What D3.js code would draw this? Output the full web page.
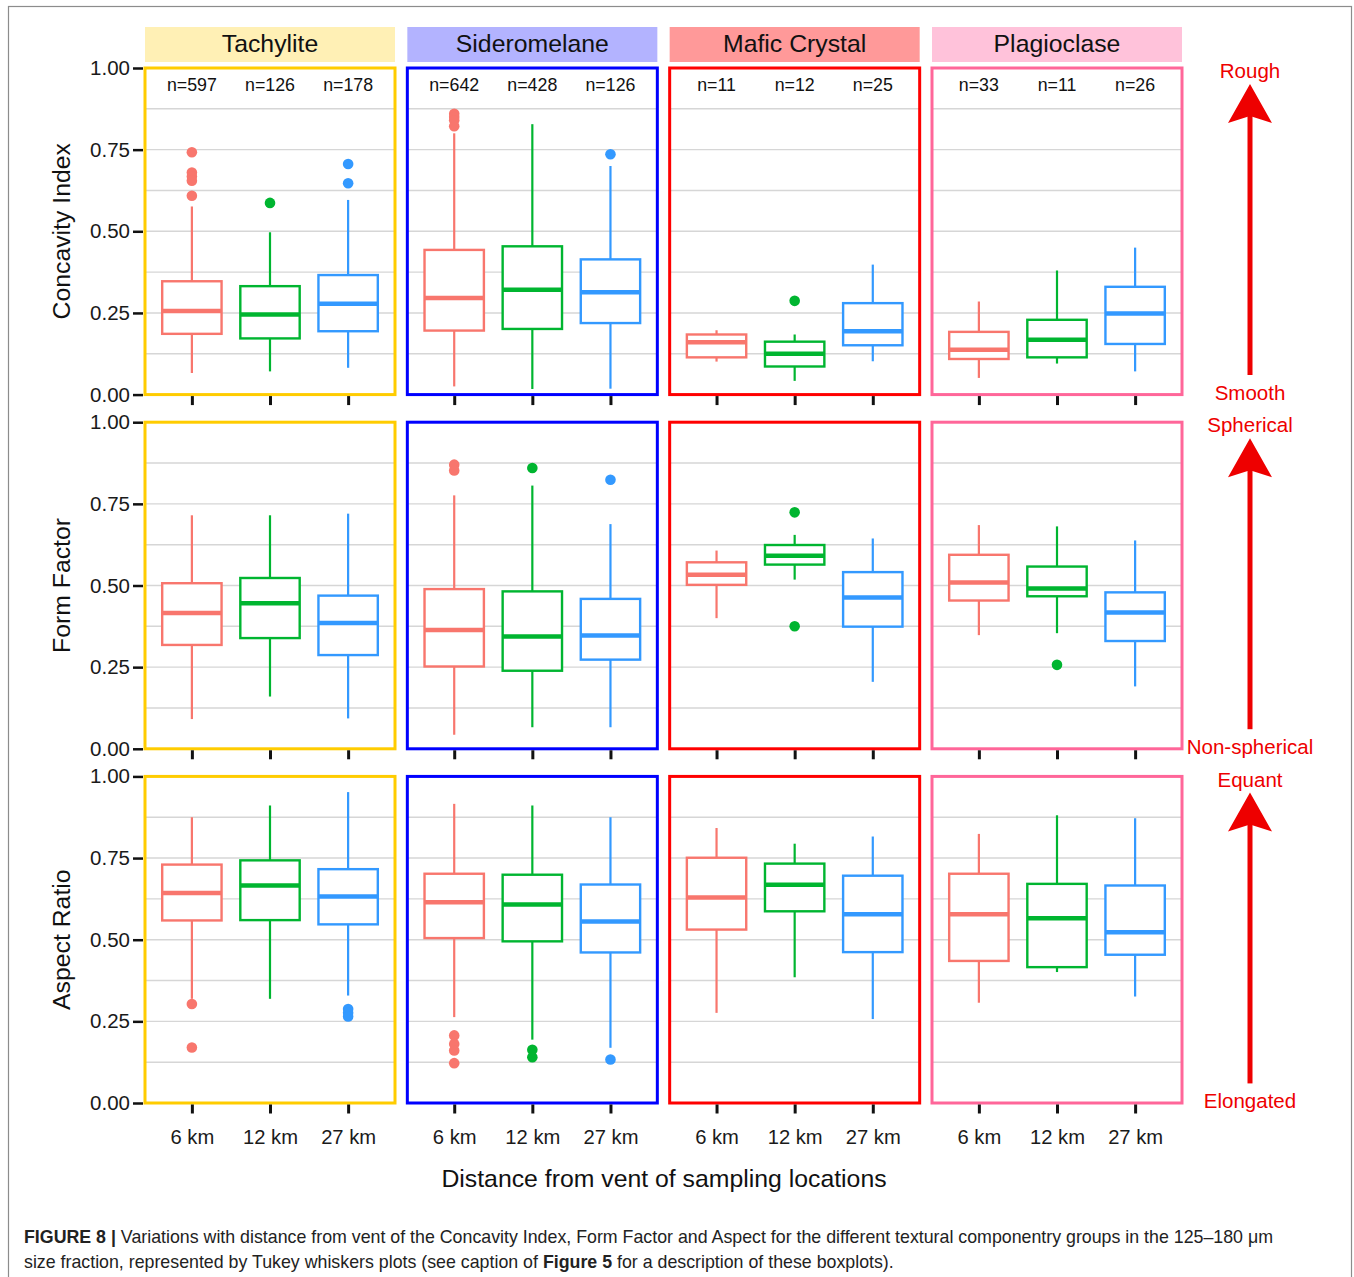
<!DOCTYPE html>
<html>
<head>
<meta charset="utf-8">
<script src="https://cdn.jsdelivr.net/npm/d3@7"></script>
<style>
  body { margin: 0; background: #fff; }
  svg { display: block; font-family: "Liberation Sans", Arial, sans-serif; }
</style>
</head>
<body>
<div id="chart"></div>
<script>
var groups = ["Tachylite", "Sideromelane", "Mafic Crystal", "Plagioclase"];
var distances = ["6 km", "12 km", "27 km"];
var metrics = ["Concavity Index", "Form Factor", "Aspect Ratio"];
var counts = [[597, 126, 178], [642, 428, 126], [11, 12, 25], [33, 11, 26]];
var yTicks = [0, 0.25, 0.5, 0.75, 1];
var yGrid = [0.125, 0.25, 0.375, 0.5, 0.625, 0.75, 0.875];

// [lower whisker, Q1, median, Q3, upper whisker] per group, per distance
var concavityStats = [
  [[0.066, 0.186, 0.256, 0.347, 0.576], [0.071, 0.172, 0.245, 0.332, 0.497], [0.082, 0.194, 0.278, 0.366, 0.596]],
  [[0.025, 0.196, 0.296, 0.443, 0.800], [0.017, 0.201, 0.321, 0.454, 0.828], [0.018, 0.219, 0.313, 0.414, 0.700]],
  [[0.101, 0.114, 0.160, 0.184, 0.197], [0.042, 0.086, 0.125, 0.162, 0.184], [0.102, 0.151, 0.194, 0.280, 0.398]],
  [[0.051, 0.109, 0.137, 0.192, 0.285], [0.095, 0.114, 0.168, 0.229, 0.380], [0.071, 0.155, 0.248, 0.330, 0.450]]
];
var concavityOutliers = [
  [[0.742, 0.680, 0.668, 0.655, 0.609], [0.587], [0.706, 0.647]],
  [[0.860, 0.850, 0.840, 0.822], [], [0.736]],
  [[], [0.287], []],
  [[], [], []]
];

var formFactorStats = [
  [[0.091, 0.318, 0.416, 0.507, 0.715], [0.160, 0.339, 0.446, 0.523, 0.715], [0.093, 0.287, 0.385, 0.469, 0.720]],
  [[0.043, 0.252, 0.364, 0.489, 0.776], [0.066, 0.239, 0.344, 0.482, 0.806], [0.066, 0.273, 0.347, 0.459, 0.688]],
  [[0.400, 0.502, 0.533, 0.571, 0.607], [0.518, 0.564, 0.591, 0.624, 0.655], [0.205, 0.374, 0.463, 0.541, 0.644]],
  [[0.348, 0.454, 0.509, 0.594, 0.685], [0.354, 0.467, 0.491, 0.558, 0.681], [0.191, 0.330, 0.417, 0.479, 0.638]]
];
var formFactorOutliers = [
  [[], [], []],
  [[0.870, 0.852], [0.860], [0.824]],
  [[], [0.724, 0.375], []],
  [[], [0.257], []]
];

var aspectRatioStats = [
  [[0.319, 0.559, 0.643, 0.730, 0.875], [0.319, 0.560, 0.666, 0.743, 0.911], [0.329, 0.547, 0.632, 0.716, 0.952]],
  [[0.263, 0.505, 0.615, 0.702, 0.916], [0.194, 0.495, 0.608, 0.699, 0.911], [0.169, 0.461, 0.556, 0.669, 0.875]],
  [[0.276, 0.531, 0.629, 0.751, 0.842], [0.385, 0.587, 0.668, 0.733, 0.794], [0.257, 0.462, 0.578, 0.696, 0.816]],
  [[0.307, 0.435, 0.578, 0.702, 0.824], [0.401, 0.416, 0.566, 0.671, 0.881], [0.326, 0.454, 0.523, 0.666, 0.872]]
];
var aspectRatioOutliers = [
  [[0.303, 0.170], [], [0.288, 0.276, 0.265]],
  [[0.207, 0.181, 0.161, 0.122], [0.163, 0.140], [0.133]],
  [[], [], []],
  [[], [], []]
];

var stats = [concavityStats, formFactorStats, aspectRatioStats];
var outliers = [concavityOutliers, formFactorOutliers, aspectRatioOutliers];

var arrowTop = ["Rough", "Spherical", "Equant"];
var arrowBottom = ["Smooth", "Non-spherical", "Elongated"];

var distColors = ["#F8766D", "#00B530", "#3399FF"];
var borderColors = ["#FFCC00", "#0000FF", "#FF0000", "#FF6699"];
var stripColors = ["#FFF0B5", "#B3B3FF", "#FF9999", "#FFC2DA"];
var red = "#EE0000";

var width = 1354,
    height = 1277;

var svg = d3.select("#chart").append("svg")
    .attr("width", width)
    .attr("height", height);

// outer frame
svg.append("rect")
    .attr("x", 8.5).attr("y", 6.5)
    .attr("width", 1343).attr("height", 1300)
    .attr("fill", "none")
    .attr("stroke", "#8c8c8c")
    .attr("stroke-width", 1.2);

var col = d3.scaleBand().domain(groups).range([145, 1182]).paddingInner(0.047);
var row = d3.scaleBand().domain(metrics).range([68, 1103]).paddingInner(0.078);

// strips
groups.forEach(function(g, gi) {
  svg.append("rect")
      .attr("x", col(g)).attr("y", 27)
      .attr("width", col.bandwidth()).attr("height", 35)
      .attr("fill", stripColors[gi]);
  svg.append("text")
      .attr("x", col(g) + col.bandwidth() / 2).attr("y", 43.5)
      .attr("dy", "0.35em")
      .attr("text-anchor", "middle")
      .attr("font-size", 24.8)
      .attr("fill", "#111")
      .text(g);
});

metrics.forEach(function(m, mi) {
  var top = row(m), bottom = top + row.bandwidth();
  var y = d3.scaleLinear().domain([0, 1]).range([bottom, top]);

  // y axis
  var yAxis = svg.append("g")
      .attr("transform", "translate(143,0)")
      .call(d3.axisLeft(y).tickValues(yTicks).tickFormat(d3.format(".2f")).tickSize(10).tickPadding(3));
  yAxis.select(".domain").remove();
  yAxis.selectAll("line").attr("stroke", "#111").attr("stroke-width", 2.5);
  yAxis.selectAll("text").attr("font-size", 20.5).attr("fill", "#1a1a1a")
      .attr("font-family", "'Liberation Sans', Arial, sans-serif");

  // y title
  svg.append("text")
      .attr("transform", "translate(61," + (top + row.bandwidth() / 2) + ") rotate(-90)")
      .attr("dy", "0.35em")
      .attr("text-anchor", "middle")
      .attr("font-size", 24.8)
      .attr("fill", "#111")
      .text(m);

  groups.forEach(function(g, gi) {
    var x = d3.scalePoint().domain(distances)
        .range([col(g), col(g) + col.bandwidth()]).padding(0.6);
    var bw = x.step() * 0.76;
    var panel = svg.append("g");

    panel.selectAll(".grid")
      .data(yGrid)
      .enter().append("line")
        .attr("x1", col(g)).attr("x2", col(g) + col.bandwidth())
        .attr("y1", y).attr("y2", y)
        .attr("stroke", "#d6d6d6")
        .attr("stroke-width", 1.4);

    distances.forEach(function(d, di) {
      var s = stats[mi][gi][di], c = distColors[di], cx = x(d);
      // whiskers
      panel.append("line")
          .attr("x1", cx).attr("x2", cx)
          .attr("y1", y(s[3])).attr("y2", y(s[4]))
          .attr("stroke", c).attr("stroke-width", 2.2);
      panel.append("line")
          .attr("x1", cx).attr("x2", cx)
          .attr("y1", y(s[1])).attr("y2", y(s[0]))
          .attr("stroke", c).attr("stroke-width", 2.2);
      // box
      panel.append("rect")
          .attr("x", cx - bw / 2).attr("y", y(s[3]))
          .attr("width", bw).attr("height", y(s[1]) - y(s[3]))
          .attr("fill", "#fff")
          .attr("stroke", c).attr("stroke-width", 2.4);
      // median
      panel.append("line")
          .attr("x1", cx - bw / 2).attr("x2", cx + bw / 2)
          .attr("y1", y(s[2])).attr("y2", y(s[2]))
          .attr("stroke", c).attr("stroke-width", 4.5);
      // outliers
      panel.selectAll(".out" + di)
        .data(outliers[mi][gi][di])
        .enter().append("circle")
          .attr("cx", cx).attr("cy", y)
          .attr("r", 5.3)
          .attr("fill", c);
    });

    if (mi === 0) {
      panel.selectAll(".n")
        .data(distances)
        .enter().append("text")
          .attr("x", function(d) { return x(d); })
          .attr("y", top + 17)
          .attr("dy", "0.35em")
          .attr("text-anchor", "middle")
          .attr("font-size", 17.8)
          .attr("fill", "#111")
          .text(function(d, i) { return "n=" + counts[gi][i]; });
    }

    // panel border
    panel.append("rect")
        .attr("x", col(g)).attr("y", top)
        .attr("width", col.bandwidth()).attr("height", row.bandwidth())
        .attr("fill", "none")
        .attr("stroke", borderColors[gi])
        .attr("stroke-width", 3);

    // x axis
    var xAxis = svg.append("g")
        .attr("transform", "translate(0," + (bottom + 1.5) + ")")
        .call(d3.axisBottom(x).tickSize(9).tickPadding(16));
    xAxis.select(".domain").remove();
    xAxis.selectAll("line").attr("stroke", "#111").attr("stroke-width", 3);
    if (mi === metrics.length - 1) {
      xAxis.selectAll("text").attr("font-size", 20.2).attr("fill", "#1a1a1a")
          .attr("font-family", "'Liberation Sans', Arial, sans-serif");
    } else {
      xAxis.selectAll("text").remove();
    }
  });

  // right side arrows
  var ax = 1250;
  var ann = svg.append("g").attr("fill", red);
  ann.append("rect")
      .attr("x", ax - 2.5).attr("y", top + 45)
      .attr("width", 5).attr("height", 262);
  ann.append("path")
      .attr("d", "M" + ax + "," + (top + 16) +
                 "L" + (ax + 22) + "," + (top + 55) +
                 "L" + ax + "," + (top + 48) +
                 "L" + (ax - 22) + "," + (top + 55) + "Z");
  ann.append("text")
      .attr("x", ax).attr("y", top + 3)
      .attr("dy", "0.35em")
      .attr("text-anchor", "middle")
      .attr("font-size", 20.5)
      .text(arrowTop[mi]);
  ann.append("text")
      .attr("x", ax).attr("y", bottom - 2)
      .attr("dy", "0.35em")
      .attr("text-anchor", "middle")
      .attr("font-size", 20.5)
      .text(arrowBottom[mi]);
});

// x title
svg.append("text")
    .attr("x", 664).attr("y", 1178)
    .attr("dy", "0.35em")
    .attr("text-anchor", "middle")
    .attr("font-size", 24.8)
    .attr("fill", "#111")
    .text("Distance from vent of sampling locations");

// caption
var cap1 = svg.append("text").attr("x", 24).attr("y", 1243).attr("font-size", 17.8).attr("fill", "#222");
cap1.append("tspan").attr("font-weight", "bold").text("FIGURE 8 | ");
cap1.append("tspan").text("Variations with distance from vent of the Concavity Index, Form Factor and Aspect for the different textural componentry groups in the 125\u2013180 \u03bcm");

var cap2 = svg.append("text").attr("x", 24).attr("y", 1268).attr("font-size", 17.8).attr("fill", "#222");
cap2.append("tspan").text("size fraction, represented by Tukey whiskers plots (see caption of ");
cap2.append("tspan").attr("font-weight", "bold").text("Figure 5");
cap2.append("tspan").text(" for a description of these boxplots).");
</script>
</body>
</html>
